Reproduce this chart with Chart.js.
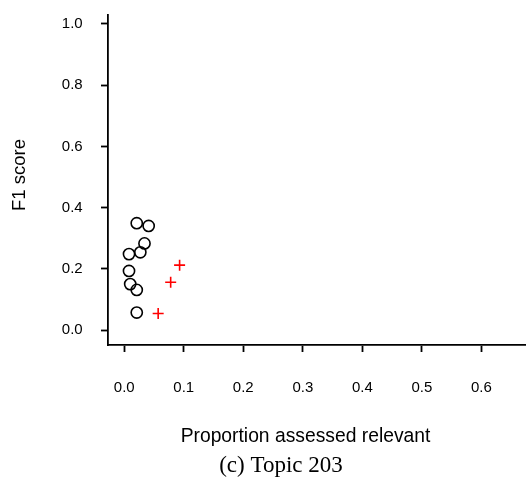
<!DOCTYPE html>
<html>
<head>
<meta charset="utf-8">
<script src="https://cdn.jsdelivr.net/npm/chart.js@4/dist/chart.umd.min.js"></script>
<style>
  body { margin: 0; background: #fff; }
  canvas { display: block; }
</style>
</head>
<body>
<canvas id="topicChart" width="526" height="489"></canvas>
<script>
// values
const circleX = [0.021, 0.041, 0.034, 0.027, 0.008, 0.008, 0.010, 0.021, 0.021];
const circleY = [0.349, 0.340, 0.283, 0.254, 0.248, 0.193, 0.150, 0.131, 0.057];
const plusX = [0.093, 0.078, 0.057];
const plusY = [0.212, 0.156, 0.054];

const xTickValues = [0.0, 0.1, 0.2, 0.3, 0.4, 0.5, 0.6];
const yTickValues = [0.0, 0.2, 0.4, 0.6, 0.8, 1.0];

const xTitle = "Proportion assessed relevant";
const yTitle = "F1 score";
const caption = "(c) Topic 203";

const sansFont = "'Liberation Sans', Arial, sans-serif";
const serifFont = "'Liberation Serif', 'Times New Roman', serif";

// pair up x and y lists for the scatter datasets
function toPoints(xs, ys) {
    return xs.map((x, i) => ({ x: x, y: ys[i] }));
}

// the axis titles and caption sit off-centre in the original, so draw them here
const titlesPlugin = {
    id: "titles",
    afterDraw(chart) {
        const c = chart.ctx;
        c.save();
        c.fillStyle = "#000";
        c.textAlign = "center";
        c.textBaseline = "middle";
        c.font = "19.3px " + sansFont;
        c.fillText(xTitle, 305.5, 437);
        c.font = "23px " + serifFont;
        c.fillText(caption, 281, 466);
        c.translate(20, 175);
        c.rotate(-Math.PI / 2);
        c.font = "18.5px " + sansFont;
        c.fillText(yTitle, 0, 0);
        c.restore();
    }
};

// no extra room for edge labels, the chart area is fixed by hand
function noLabelPadding(scale) {
    scale.paddingTop = 0;
    scale.paddingBottom = 0;
    scale.paddingLeft = 0;
    scale.paddingRight = 0;
}

const ctx = document.getElementById("topicChart").getContext("2d");
new Chart(ctx, {
    type: "scatter",
    data: {
        datasets: [
            {
                label: "o",
                data: toPoints(circleX, circleY),
                pointStyle: "circle",
                pointRadius: 5.6,
                pointBorderWidth: 1.6,
                pointBorderColor: "#000",
                pointBackgroundColor: "rgba(0,0,0,0)"
            },
            {
                label: "+",
                data: toPoints(plusX, plusY),
                pointStyle: "cross",
                pointRadius: 5.5,
                pointBorderWidth: 1.6,
                pointBorderColor: "#ff0000",
                pointBackgroundColor: "#ff0000"
            }
        ]
    },
    options: {
        responsive: false,
        animation: false,
        layout: { autoPadding: false, padding: { top: 15, right: 0, left: 0, bottom: 0 } },
        plugins: {
            legend: { display: false },
            tooltip: { enabled: false },
            title: { display: false }
        },
        scales: {
            x: {
                type: "linear",
                min: -0.0273,
                max: 0.675,
                afterBuildTicks: scale => { scale.ticks = xTickValues.map(v => ({ value: v })); },
                afterFit: scale => { scale.height = 144; noLabelPadding(scale); },
                grid: { drawOnChartArea: false, drawTicks: true, tickLength: 7, tickWidth: 1.8, tickColor: "#000" },
                border: { display: true, color: "#000", width: 1.8 },
                ticks: {
                    padding: 27,
                    color: "#000",
                    autoSkip: false,
                    maxRotation: 0,
                    font: { family: sansFont, size: 15 },
                    callback: v => v.toFixed(1)
                },
                title: { display: false }
            },
            y: {
                type: "linear",
                min: -0.049,
                max: 1.0294,
                afterBuildTicks: scale => { scale.ticks = yTickValues.map(v => ({ value: v })); },
                afterFit: scale => { scale.width = 108; noLabelPadding(scale); },
                grid: { drawOnChartArea: false, drawTicks: true, tickLength: 7, tickWidth: 1.8, tickColor: "#000" },
                border: { display: true, color: "#000", width: 1.8 },
                ticks: {
                    padding: 18.3,
                    color: "#000",
                    autoSkip: false,
                    font: { family: sansFont, size: 15 },
                    callback: v => v.toFixed(1)
                },
                title: { display: false }
            }
        }
    },
    plugins: [titlesPlugin]
});
</script>
</body>
</html>
